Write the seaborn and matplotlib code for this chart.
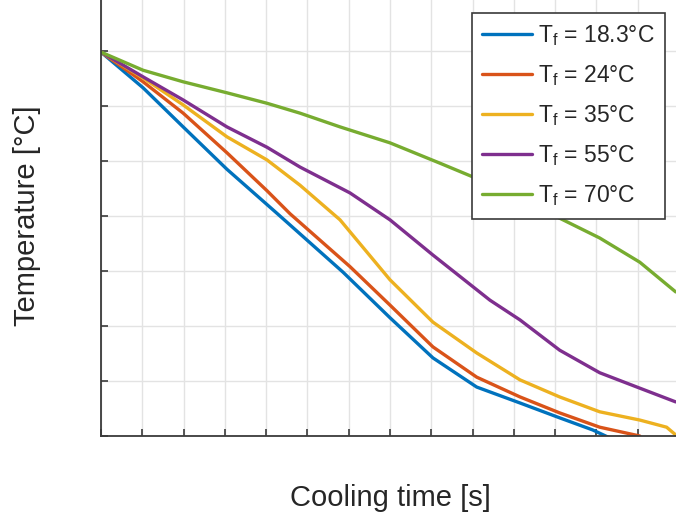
import pandas as pd
import matplotlib
matplotlib.use('Agg')
import matplotlib.pyplot as plt
import seaborn as sns

# values (time in s, temperature in °C, arbitrary scale)
t_18 = [0, 10.2, 19.9, 30.5, 42.6, 58.6, 70.0, 80.4, 91.0, 101.5, 111.1, 119.1, 122.8]
T_18 = [69.8, 63.3, 56.2, 48.5, 40.5, 29.8, 21.5, 14.2, 8.9, 6.0, 3.3, 1.1, -0.2]

t_24 = [0, 10.2, 19.9, 30.5, 40.2, 45.8, 60.3, 70.0, 80.4, 91.0, 101.5, 111.1, 120.8, 130.5]
T_24 = [69.8, 64.4, 58.7, 51.5, 44.6, 40.4, 30.8, 23.8, 16.2, 10.7, 7.1, 4.2, 1.6, 0]

t_35 = [0, 10.2, 19.9, 30.5, 40.2, 48.2, 57.9, 70.0, 80.4, 91.0, 101.5, 111.1, 120.8, 130.5, 137.0, 139.2]
T_35 = [69.8, 65.1, 60.2, 54.4, 50.2, 45.6, 39.3, 28.4, 20.7, 15.1, 10.2, 7.1, 4.4, 2.9, 1.6, 0.2]

t_55 = [0, 10.2, 19.9, 30.5, 40.2, 48.2, 60.3, 70.0, 80.4, 94.2, 101.5, 111.1, 120.8, 130.5, 139.2]
T_55 = [69.8, 65.3, 61.1, 56.2, 52.5, 48.9, 44.2, 39.3, 32.9, 24.7, 21.1, 15.6, 11.5, 8.7, 6.2]

t_70 = [0, 10.2, 19.9, 30.5, 40.2, 48.2, 57.9, 70.0, 82.1, 90.1, 111.1, 120.8, 130.5, 139.2]
T_70 = [69.8, 66.5, 64.4, 62.4, 60.5, 58.7, 56.2, 53.3, 49.6, 47.1, 39.6, 36.0, 31.6, 26.2]

labels = [r'$\mathregular{T_f}$ = 18.3°C', r'$\mathregular{T_f}$ = 24°C', r'$\mathregular{T_f}$ = 35°C',
          r'$\mathregular{T_f}$ = 55°C', r'$\mathregular{T_f}$ = 70°C']
colors = ['#0072BD', '#D95319', '#EDB120', '#7E2F8E', '#77AC30']

series = [(t_18, T_18), (t_24, T_24), (t_35, T_35), (t_55, T_55), (t_70, T_70)]
frames = []
for lab, (t, T) in zip(labels, series):
    frames.append(pd.DataFrame({'time': t, 'temp': T, 'fluid': lab}))
df = pd.concat(frames, ignore_index=True)

sns.set_style('whitegrid')
plt.rcParams['font.family'] = ['Liberation Sans', 'DejaVu Sans']
plt.rcParams['mathtext.fontset'] = 'custom'
plt.rcParams['mathtext.rm'] = 'Liberation Sans'

fig = plt.figure(figsize=(6.76, 5.16), dpi=100)
ax = fig.add_axes([101 / 676, 80 / 516, 578 / 676, 440 / 516])

sns.lineplot(data=df, x='time', y='temp', hue='fluid', palette=colors, linewidth=2.4,
             sort=False, ax=ax)

ax.set_xlim(0, 140)
ax.set_ylim(0, 80)
ax.set_xticks(range(0, 141, 10))
ax.set_yticks(range(0, 81, 10))
ax.set_xticklabels([])
ax.set_yticklabels([])
ax.grid(True, color='#e3e3e3', linewidth=1)
ax.tick_params(direction='in', length=5, width=1.2, color='#3a3a3a', bottom=True, left=True)
for s in ax.spines.values():
    s.set_color('#3a3a3a')
    s.set_linewidth(1.3)

ax.set_xlabel('Cooling time [s]', fontsize=21, color='#262626')
ax.set_ylabel('Temperature [°C]', fontsize=21, color='#262626')
ax.xaxis.set_label_coords(0.5, -0.141)
ax.xaxis.label.set_va('center')
ax.yaxis.set_label_coords(-0.128, 0.5)
ax.yaxis.label.set_va('center')

leg = ax.legend(loc='upper right', bbox_to_anchor=(665 / 676, 1 - 13 / 516), bbox_transform=fig.transFigure,
                borderaxespad=0, fontsize=16.5, frameon=True, fancybox=False, framealpha=1,
                edgecolor='#3a3a3a', handlelength=2.2, handletextpad=0.25, labelspacing=0.66,
                borderpad=0.45)
leg.get_frame().set_linewidth(1.2)
for line in leg.get_lines():
    line.set_linewidth(2.4)

fig.savefig('out.png', dpi=100)
